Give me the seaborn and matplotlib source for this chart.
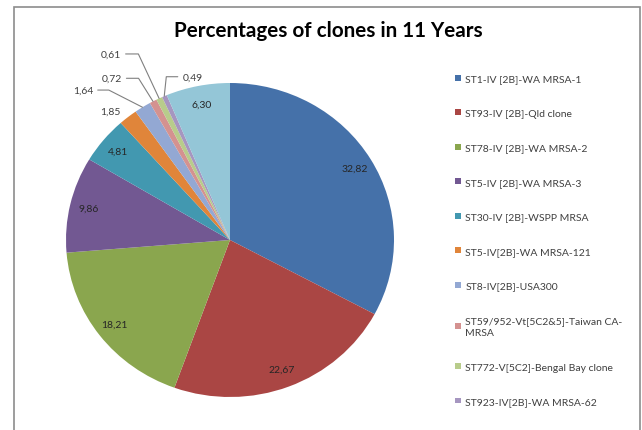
import numpy as np
import matplotlib.pyplot as plt
import seaborn as sns
from matplotlib.patches import Rectangle

#%% Daten

clones = ['ST1-IV [2B]-WA MRSA-1', 'ST93-IV [2B]-Qld clone', 'ST78-IV [2B]-WA MRSA-2',
          'ST5-IV [2B]-WA MRSA-3', 'ST30-IV [2B]-WSPP MRSA', 'ST5-IV[2B]-WA MRSA-121',
          'ST8-IV[2B]-USA300', 'ST59/952-Vt[5C2&5]-Taiwan CA-\nMRSA',
          'ST772-V[5C2]-Bengal Bay clone', 'ST923-IV[2B]-WA MRSA-62', 'Others']
percent = [32.82, 22.67, 18.21, 9.86, 4.81, 1.85, 1.64, 0.72, 0.61, 0.49, 6.30]
colors = ['#4571a9', '#aa4644', '#8aa64e', '#725892', '#4298b0', '#e0853a',
          '#93a8d3', '#d49290', '#b8cc8b', '#a696c0', '#94c6d7']

# kleine Segmente mit Hinweislinie: Index, Textposition, Winkel der Linie
small = {6: ((-0.835, 0.955), 153),
         7: ((-0.66, 1.03), 122),
         8: ((-0.665, 1.185), 115),
         9: ((-0.29, 1.04), 84)}

#%% Plot

sns.set_style('white')
plt.rcParams['font.family'] = ['Lato', 'DejaVu Sans']

W, H = 642, 431
fig = plt.figure(figsize=(W/100, H/100), dpi=100)
ax = fig.add_axes([0, 0, 1, 1])

cx, cy, rx, ry = 230, 241, 164, 157

wedges, _ = ax.pie(percent, colors=sns.color_palette(colors), startangle=90,
                   counterclock=False, wedgeprops=dict(linewidth=0))
ax.set_aspect('auto')
ax.set_xlim(-cx/rx, (W-cx)/rx)
ax.set_ylim(-(H-cy)/ry, cy/ry)
ax.axis('off')

# Beschriftungen
lab = [f'{v:.2f}'.replace('.', ',') for v in percent]
angles = 90 - (np.cumsum(percent) - np.array(percent)/2) / 100 * 360
for i, a in enumerate(angles):
    t = np.deg2rad(a)
    if i in small:
        pos, angB = small[i]
        ha = 'left' if pos[0] > -0.4 else 'right'
        ax.annotate(lab[i], xy=(np.cos(t), np.sin(t)), xytext=pos, ha=ha, va='center',
                    fontsize=7.5, color='#404040',
                    arrowprops=dict(arrowstyle='-', color='#808080', lw=0.8,
                                    shrinkA=1, shrinkB=0,
                                    connectionstyle=f'angle,angleA=0,angleB={angB},rad=0'))
    elif i == 5:
        ax.text(-0.73, 0.82, lab[i], ha='center', va='center', fontsize=7.5, color='#404040')
    else:
        ax.text(0.885*np.cos(t), 0.885*np.sin(t), lab[i], ha='center', va='center',
                fontsize=7.5, color='#262626')

fig.text(328/W, 1-31/H, 'Percentages of clones in 11 Years', ha='center', va='center',
         fontsize=14.9, fontweight='bold', color='black')

leg = fig.legend(wedges[:10], clones[:10], loc='upper left', bbox_to_anchor=(446/W, 1-66/H),
                 frameon=False, fontsize=7.5, handlelength=0.5, handleheight=0.5,
                 handletextpad=0.45, labelspacing=2.45, labelcolor='#404040')
for t in leg.get_texts():
    t.set_linespacing(1.45)

fig.patches.append(Rectangle((14/W, -0.05), (640-14)/W, 1.05-8/H, transform=fig.transFigure,
                             fill=False, edgecolor='#8c8c8c', lw=1.2))

fig.savefig('out.png', dpi=100)
